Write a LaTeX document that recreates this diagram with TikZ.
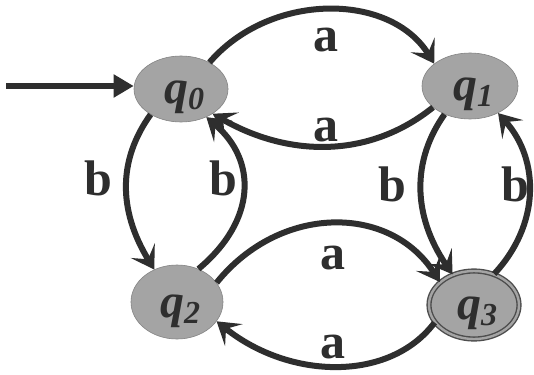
\documentclass[tikz,border=0pt]{standalone}
\usepackage{fontspec}
\setmainfont{Liberation Serif}
\newfontfamily\labfont{Liberation Serif Bold}
\newfontfamily\qfont{Liberation Serif Bold Italic}
\usetikzlibrary{arrows.meta,shapes.geometric}
\definecolor{ink}{HTML}{2E2E2E}
\definecolor{stfill}{HTML}{A4A4A4}
\tikzset{
  st/.style={ellipse,fill=stfill,draw=stfill!80!black,line width=0.6pt,inner sep=0pt},
  acc/.style={st,draw=ink!85,line width=1.4pt,double=stfill,double distance=2.4pt},
  qlab/.style={text=ink,inner sep=0pt,font=\fontsize{48}{48}\qfont},
  elab/.style={text=ink,inner sep=0pt,font=\fontsize{50}{50}\labfont},
  tr/.style={draw=ink,line width=6pt,-{Stealth[length=22pt,width=28pt,inset=10pt]}},
  init/.style={draw=ink,line width=6.5pt,-{Triangle[length=20pt,width=22pt]}}
}
\newcommand{\qsub}[2]{#1\raisebox{-0.28ex}{\fontsize{32}{32}\qfont #2}}
\begin{document}
\begin{tikzpicture}[x=1pt,y=-1pt]
\useasboundingbox (0,0) rectangle (534,374);
\fill[white] (0,0) rectangle (534,374);
% states
\node[st,minimum width=94pt,minimum height=66pt] (q0) at (181,89) {};
\node[st,minimum width=96pt,minimum height=66pt] (q1) at (470,86) {};
\node[st,minimum width=92pt,minimum height=74pt] (q2) at (177,302) {};
\node[acc,minimum width=90pt,minimum height=68pt] (q3) at (474,305) {};
\node[qlab] (l0) at (184,97) {\qsub{q}{0}};
\node[qlab] (l1) at (473,94) {\qsub{q}{1}};
\node[qlab] (l2) at (180,311) {\qsub{q}{2}};
\node[qlab] (l3) at (477,313) {\qsub{q}{3}};
% start
\coordinate (s) at (6,86);
\draw[init] (s) -- (q0.west |- s);
% transitions
\draw[tr] (q0.43) .. controls (270,-8) and (390,-8) .. (q1.148);
\draw[tr] (q1.210) .. controls (370,158) and (290,158) .. (q0.-38);
\draw[tr] (q0.220) .. controls (118,160) and (118,210) .. (q2.125);
\draw[tr] (q2.57) .. controls (257,220) and (257,160) .. (q0.-48);
\draw[tr] (q1.228) .. controls (412,160) and (412,215) .. (q3.125);
\draw[tr] (q3.57) .. controls (540,225) and (540,160) .. (q1.-44);
\draw[tr] (q2.26) .. controls (280,204) and (390,204) .. (q3.146);
\draw[tr] (q3.204) .. controls (390,382) and (290,380) .. (q2.-26);
% labels
\node[elab] (ea1) at (326,40) {a};
\node[elab] (ea2) at (326,130) {a};
\node[elab] (eb1) at (98,178) {b};
\node[elab] (eb2) at (223,178) {b};
\node[elab] (eb3) at (392,184) {b};
\node[elab] (eb4) at (515,184) {b};
\node[elab] (ea3) at (333,258) {a};
\node[elab] (ea4) at (333,347) {a};
\end{tikzpicture}
\end{document}
